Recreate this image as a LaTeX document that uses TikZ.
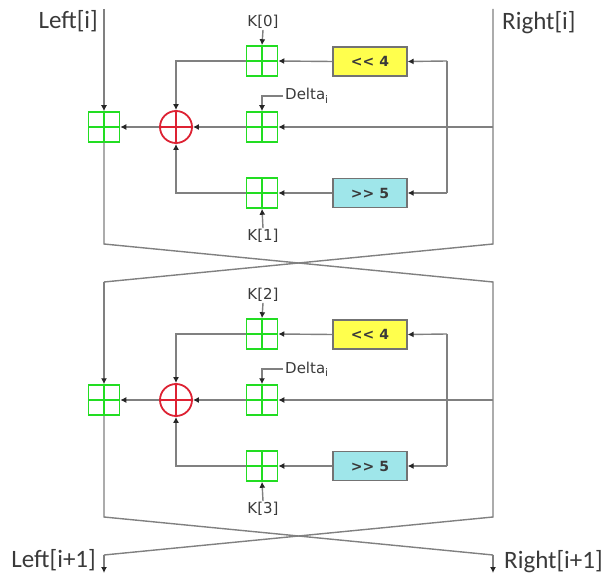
\documentclass[tikz,border=0pt]{standalone}
\usepackage{fontspec}
\setmainfont{DejaVu Sans}
\newfontfamily\calfont{Carlito}
\usetikzlibrary{arrows.meta}
\definecolor{wirecol}{HTML}{808080}
\definecolor{addgreen}{HTML}{22DD22}
\definecolor{xorred}{HTML}{DD2233}
\definecolor{shlyellow}{HTML}{FFFF4D}
\definecolor{shrcyan}{HTML}{9FE6EA}
\definecolor{txt}{HTML}{3A3A3A}
\begin{document}
\begin{tikzpicture}[x=1pt,y=-1pt,
  wire/.style={draw=wirecol,line width=1.4pt},
  arr/.style={wire,-{Latex[length=6pt,width=6pt,color=black!85]}},
  adder/.style={draw=addgreen,line width=1.5pt,minimum width=31pt,minimum height=30pt,inner sep=0pt,fill=white,
    path picture={\draw[addgreen,line width=1.5pt] (path picture bounding box.north) -- (path picture bounding box.south) (path picture bounding box.west) -- (path picture bounding box.east);}},
  xorgate/.style={circle,draw=xorred,line width=1.8pt,minimum size=32pt,inner sep=0pt,fill=white,
    path picture={\draw[xorred,line width=1.8pt] (path picture bounding box.north) -- (path picture bounding box.south) (path picture bounding box.west) -- (path picture bounding box.east);}},
  shiftbox/.style={draw=black!55,line width=1.2pt,minimum width=74pt,minimum height=29pt,inner sep=0pt,font=\bfseries\fontsize{14}{16}\selectfont,text=txt},
  klabel/.style={font=\fontsize{15}{18}\selectfont,text=txt,inner sep=1pt},
  biglabel/.style={font=\calfont\fontsize{25}{30}\selectfont,text=txt,inner sep=0pt}]
\useasboundingbox (0,0) rectangle (605,577);

\node[biglabel,anchor=east] (li) at (98,21) {Left[i]};
\node[biglabel,anchor=west] (ri) at (502,23) {Right[i]};
\node[biglabel,anchor=east] (lo) at (96,560) {Left[i+1]};
\node[biglabel,anchor=west] (ro) at (504,562) {Right[i+1]};

\foreach \b/\oy/\ka/\kb in {1/0/0/1,2/273/2/3}{
  \node[adder] (T\b) at (262,61+\oy) {};
  \node[adder] (M\b) at (262,127+\oy) {};
  \node[adder] (B\b) at (262,193+\oy) {};
  \node[adder] (L\b) at (104,127+\oy) {};
  \node[xorgate] (X\b) at (176,127+\oy) {};
  \node[shiftbox,fill=shlyellow] (Y\b) at (370,61.5+\oy) {<{}< 4};
  \node[shiftbox,fill=shrcyan] (C\b) at (370,193+\oy) {>{}> 5};
  \node[klabel] (ka\b) at (263,22+\oy) {K[\ka]};
  \node[klabel] (kb\b) at (263,236+\oy) {K[\kb]};
  \node[klabel,anchor=base west,inner sep=0pt] (d\b) at (285,100+\oy) {Delta\textsubscript{i}};
  \coordinate (rj\b) at (493,127+\oy);
  \coordinate (vt\b) at (447,61+\oy);
  \coordinate (vb\b) at (447,193+\oy);
  \draw[arr] (rj\b) -- (M\b.east);
  \draw[wire] (vt\b) -- (vb\b);
  \draw[arr] (vt\b) -- (Y\b.east);
  \draw[arr] (vb\b) -- (C\b.east);
  \draw[arr] (Y\b.west) -- (T\b.east);
  \draw[arr] (C\b.west) -- (B\b.east);
  \draw[arr] (T\b.west) -| (X\b.north);
  \draw[arr] (B\b.west) -| (X\b.south);
  \draw[arr] (M\b.west) -- (X\b.east);
  \draw[arr] (X\b.west) -- (L\b.east);
  \draw[arr] (ka\b.south) -- (T\b.north);
  \draw[arr] (kb\b.north) -- (B\b.south);
  \draw[arr] ([xshift=-2pt]d\b.west) -| (M\b.north);
}

\coordinate (ltop) at (104,9);
\coordinate (rtop) at (493,9);
\coordinate (c1l) at (104,244);
\coordinate (c1r) at (493,244);
\coordinate (c2l) at (104,282);
\coordinate (c2r) at (493,282);
\coordinate (c3l) at (104,517);
\coordinate (c3r) at (493,517);
\coordinate (c4l) at (104,555);
\coordinate (c4r) at (493,555);
\coordinate (outl) at (104,573);
\coordinate (outr) at (493,573);

\draw[arr] (ltop) -- (L1.north);
\draw[wire] (rtop) -- (c1r) -- (c2l);
\draw[arr] (c2l) -- (L2.north);
\draw[wire] (L1.south) -- (c1l) -- (c2r) -- (c3r) -- (c4l);
\draw[arr] (c4l) -- (outl);
\draw[wire] (L2.south) -- (c3l) -- (c4r);
\draw[arr] (c4r) -- (outr);
\end{tikzpicture}
\end{document}
